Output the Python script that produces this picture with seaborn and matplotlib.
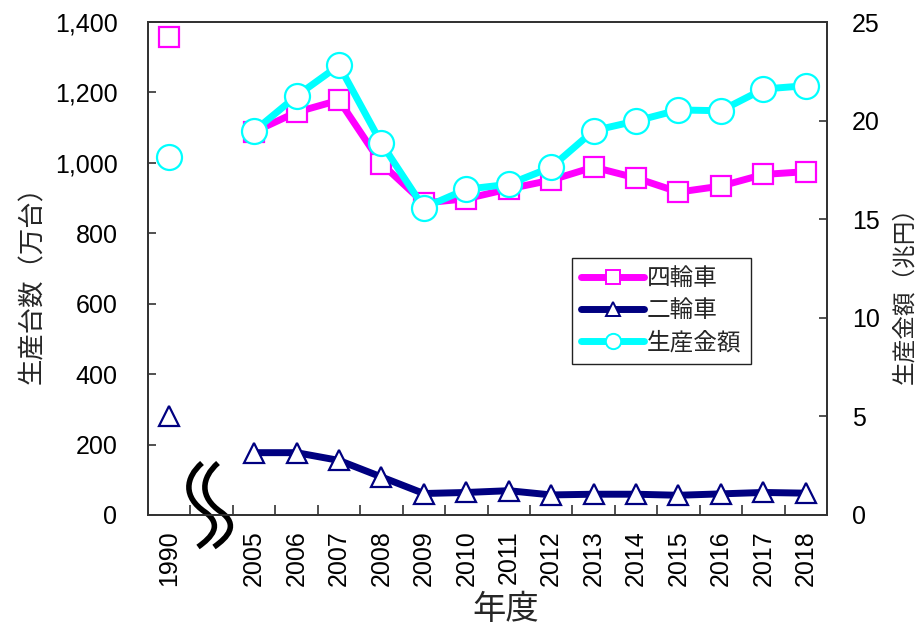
import matplotlib
matplotlib.use("Agg")
import matplotlib.pyplot as plt
import matplotlib.ticker as mticker
from matplotlib.path import Path
from matplotlib.patches import PathPatch
from matplotlib.lines import Line2D
import seaborn as sns
import pandas as pd

# ---- data -------------------------------------------------------------
years = ["1990", "2005", "2006", "2007", "2008", "2009", "2010", "2011",
         "2012", "2013", "2014", "2015", "2016", "2017", "2018"]
# slot index of each year on the category axis (slot 1 holds the axis break)
slots = [0, 2, 3, 4, 5, 6, 7, 8, 9, 10, 11, 12, 13, 14, 15]
four_wheel = [1357, 1088, 1144, 1178, 998, 886, 898, 926, 951, 988,
              957, 917, 934, 967, 975]          # 万台
two_wheel = [281, 177, 177, 155, 108, 61, 64, 69, 57, 59,
             59, 56, 60, 64, 62]                # 万台
value = [18.17, 19.47, 21.25, 22.8, 18.85, 15.58, 16.52, 16.77, 17.63,
         19.49, 19.98, 20.54, 20.5, 21.6, 21.77]  # 兆円

series_labels = ["四輪車", "二輪車", "生産金額"]
left_label = "生産台数（万台）"
right_label = "生産金額（兆円）"
x_label = "年度"

MAGENTA = "#FF00FF"
NAVY = "#000080"
CYAN = "#00FFFF"
SPINE = "#333333"

df = pd.DataFrame({"slot": slots, "year": years, "four": four_wheel,
                   "two": two_wheel, "value": value})
first = df.iloc[:1]
rest = df.iloc[1:]

# ---- style ------------------------------------------------------------
sns.set_theme(style="white")
plt.rcParams["font.family"] = ["Liberation Sans", "Noto Sans CJK JP"]
CJK = ["Noto Sans CJK JP"]

fig = plt.figure(figsize=(9.24, 6.27), dpi=100)
ax = fig.add_axes([148 / 924, 1 - 515 / 627, 679 / 924, 493 / 627])
ax2 = ax.twinx()

line_kw = dict(linewidth=5, markerfacecolor="white", markeredgewidth=1.6)


def draw(axis, frame, col, color, marker, msize, connect):
    kw = dict(line_kw)
    if not connect:
        kw["linestyle"] = "none"
    sns.lineplot(data=frame, x="slot", y=col, ax=axis, color=color,
                 marker=marker, markersize=msize, markeredgecolor=color,
                 legend=False, **kw)


draw(ax, rest, "two", NAVY, "^", 15, True)
draw(ax, first, "two", NAVY, "^", 15, False)
draw(ax, rest, "four", MAGENTA, "s", 15, True)
draw(ax, first, "four", MAGENTA, "s", 15, False)
draw(ax2, rest, "value", CYAN, "o", 18, True)
draw(ax2, first, "value", CYAN, "o", 18, False)

# ---- axes -------------------------------------------------------------
ax.set_xlim(-0.5, 15.5)
ax.set_ylim(0, 1400)
ax2.set_ylim(0, 25)
ax.yaxis.set_major_locator(mticker.MultipleLocator(200))
ax.yaxis.set_major_formatter(mticker.FuncFormatter(lambda v, p: f"{int(v):,}"))
ax2.yaxis.set_major_locator(mticker.MultipleLocator(5))

ax.set_xticks(slots)
ax.set_xticklabels(years, rotation=90)
ax.set_xticks([s + 0.5 for s in range(15)], minor=True)
ax.tick_params(axis="x", which="major", length=0, pad=11, labelsize=18,
               colors="black")
ax.tick_params(axis="x", which="minor", direction="in", length=7,
               width=1.2, color=SPINE, bottom=True)
ax.tick_params(axis="y", direction="in", length=6, width=1.2, color=SPINE,
               pad=22, labelsize=18, labelcolor="black", left=True)
ax2.tick_params(axis="y", direction="in", length=6, width=1.2, color=SPINE,
                pad=18, labelsize=18, labelcolor="black", right=True)

for a in (ax, ax2):
    for s in a.spines.values():
        s.set_color(SPINE)
        s.set_linewidth(1.3)

ax.set_xlabel(x_label, fontsize=24, family=CJK)
ax.xaxis.set_label_coords((506 - 148) / 679, -(609 - 515) / 493)
ax.xaxis.label.set_va("center")
ax.set_ylabel(left_label, fontsize=19, family=CJK)
ax.yaxis.set_label_coords(-(148 - 33) / 679, (515 - 278) / 493)
ax.yaxis.label.set_va("center")
ax2.set_ylabel(right_label, fontsize=17, family=CJK, rotation=90)
ax2.yaxis.set_label_coords(1 + (905 - 827) / 679, (515 - 289) / 493)
ax2.yaxis.label.set_va("center")

# ---- axis break mark (two S-shaped strokes across the x axis) --------
def px(xp, yp):
    return ((xp - 148) / 679, (515 - yp) / 493)


for dx in (0, 16):
    pts = [(202, 463), (185, 478), (183, 497), (205, 512),
           (223, 525), (212, 537), (198, 547)]
    verts = [px(x + dx, y) for x, y in pts]
    codes = [Path.MOVETO] + [Path.CURVE4] * 6
    ax.add_patch(PathPatch(Path(verts, codes), transform=ax.transAxes,
                           facecolor="none", edgecolor="black", lw=4.0,
                           clip_on=False, zorder=5, capstyle="butt"))

# ---- legend -----------------------------------------------------------
handles = [
    Line2D([], [], color=MAGENTA, lw=5, marker="s", markersize=10,
           markerfacecolor="white", markeredgecolor=MAGENTA,
           markeredgewidth=1.4, solid_capstyle="round"),
    Line2D([], [], color=NAVY, lw=5, marker="^", markersize=10,
           markerfacecolor="white", markeredgecolor=NAVY,
           markeredgewidth=1.4, solid_capstyle="round"),
    Line2D([], [], color=CYAN, lw=5, marker="o", markersize=11,
           markerfacecolor="white", markeredgecolor=CYAN,
           markeredgewidth=1.4, solid_capstyle="round"),
]
leg = ax2.legend(handles, series_labels, loc="upper left",
                 bbox_to_anchor=(572 / 924, 1 - 258 / 627),
                 bbox_transform=fig.transFigure, borderaxespad=0,
                 handlelength=2.65, handletextpad=0.12,
                 labelspacing=0.38, borderpad=0.4, fancybox=False,
                 framealpha=1, edgecolor="#222222",
                 prop={"family": CJK, "size": 17})
leg.get_frame().set_linewidth(1.0)

fig.savefig("out.png", dpi=100)
